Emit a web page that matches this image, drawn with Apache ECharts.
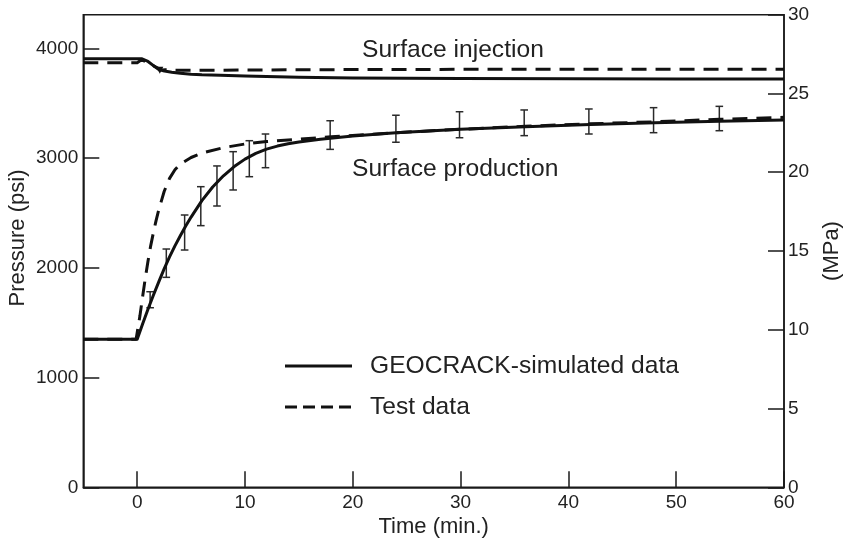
<!DOCTYPE html>
<html><head><meta charset="utf-8">
<script src="https://cdn.jsdelivr.net/npm/echarts@6/dist/echarts.min.js"></script>
<style>html,body{margin:0;padding:0;background:#fff}#c{width:845px;height:543px}</style>
</head><body><div id="c"></div>
<script>
// ---- tick values ----
const timeTicks = [0, 10, 20, 30, 40, 50, 60];
const psiTicks = [0, 1000, 2000, 3000, 4000];
const timeMin = -5, timeMax = 60;
const psiMax = 4306;          // top of frame (= 30 MPa on the right)
const mpaMin = 0, mpaMax = 30, mpaStep = 5;

// ---- Surface injection ----
const simInjT = [-5, 0.4, 1.0, 1.6, 2.4, 3.2, 4.0, 5.0, 6.0, 7.7, 10, 12, 15, 20, 25, 30, 40, 50, 60];
const simInjP = [3905, 3905, 3880, 3835, 3795, 3782, 3772, 3763, 3758, 3754, 3748, 3742, 3736, 3730, 3727, 3724, 3722, 3720, 3720];
const testInjT = [-5, 0, 0.4, 1.0, 1.6, 2.1, 2.6, 3.2, 4, 6, 10, 20, 30, 40, 50, 60];
const testInjP = [3869, 3869, 3895, 3870, 3835, 3800, 3805, 3800, 3800, 3800, 3802, 3806, 3808, 3808, 3810, 3810];
const testInjMarkIdx = 5;

// ---- Surface production ----
const simProdT = [-5, 0, 0.5, 1, 1.5, 2, 2.5, 3, 3.5, 4, 4.5, 5, 6, 7, 8, 9, 10, 11, 12, 13, 14, 15, 17, 20, 24, 30, 36, 42, 48, 54, 60];
const simProdP = [1348, 1348, 1488, 1622, 1750, 1872, 1990, 2100, 2200, 2292, 2380, 2462, 2612, 2736, 2838, 2922, 2990, 3042, 3081, 3109, 3130, 3146, 3171, 3200, 3231, 3262, 3286, 3305, 3321, 3335, 3347];
const testProdT = [-5, -0.1, 0.25, 0.5, 0.75, 1, 1.25, 1.5, 1.75, 2, 2.5, 3, 3.5, 4, 5, 6, 8, 10, 12, 15, 18, 21, 24, 30, 36, 42, 48, 54, 60];
const testProdP = [1350, 1350, 1560, 1735, 1905, 2060, 2200, 2320, 2430, 2528, 2695, 2815, 2893, 2945, 3005, 3045, 3095, 3128, 3150, 3172, 3193, 3212, 3231, 3262, 3290, 3312, 3330, 3353, 3371];

// ---- error bars on production ----
const errT  = [1.2, 2.7, 4.4, 5.9, 7.4, 8.9, 10.4, 11.9, 17.9, 24.0, 29.9, 35.9, 41.9, 47.9, 54.0];
const errLo = [1636, 1913, 2162, 2384, 2563, 2709, 2830, 2912, 3079, 3144, 3185, 3204, 3219, 3231, 3249];
const errHi = [1782, 2171, 2481, 2739, 2928, 3058, 3158, 3219, 3340, 3390, 3422, 3438, 3447, 3459, 3471];

const simName = 'GEOCRACK-simulated data';
const testName = 'Test data';

const zip = (t, p) => t.map((x, i) => [x, p[i]]);
const FONT = '"Liberation Sans", Arial, Helvetica, sans-serif';
const INK = '#1a1a1a';
const TXT = '#222';
const DASH = [15, 9];

const chart = echarts.init(document.getElementById('c'), null, {renderer: 'canvas'});

const axisLineStyle = {show: true, onZero: false, lineStyle: {color: INK, width: 1.5}};
const labelStyle = {fontSize: 19, color: TXT, fontFamily: FONT, formatter: v => String(v)};

const lineSeries = (name, data, dashed) => ({
  type: 'line', name, data, yAxisIndex: 0,
  symbol: 'none', showSymbol: true,
  smooth: false,
  lineStyle: {color: '#111', width: 3, type: dashed ? DASH : 'solid', join: 'round'},
  itemStyle: {color: '#111'},
  z: 3
});

const injTestData = zip(testInjT, testInjP).map((v, i) => i === testInjMarkIdx
  ? {value: v, symbol: 'triangle', symbolSize: 7, symbolRotate: 180}
  : v);

const option = {
  animation: false,
  backgroundColor: '#fff',
  grid: {left: 83.3, right: 61, top: 14.7, bottom: 55.7, show: true, containLabel: false,
         outerBoundsMode: 'none',
         borderColor: INK, borderWidth: 1.5, backgroundColor: 'transparent'},
  xAxis: {
    type: 'value', min: timeMin, max: timeMax,
    axisLine: axisLineStyle,
    axisTick: {show: true, inside: true, length: 16, customValues: timeTicks, lineStyle: {color: INK, width: 1.5}},
    axisLabel: Object.assign({customValues: timeTicks, margin: 6}, labelStyle),
    splitLine: {show: false},
    name: 'Time (min.)', nameLocation: 'middle', nameGap: 29, nameMoveOverlap: false,
    nameTextStyle: {fontSize: 22, color: TXT, fontFamily: FONT}
  },
  yAxis: [
    {
      type: 'value', min: 0, max: psiMax, position: 'left',
      axisLine: axisLineStyle,
      axisTick: {show: true, inside: true, length: 16, customValues: psiTicks, lineStyle: {color: INK, width: 1.5}},
      axisLabel: Object.assign({customValues: psiTicks, margin: 5}, labelStyle),
      splitLine: {show: false}
    },
    {
      type: 'value', min: mpaMin, max: mpaMax, interval: mpaStep, position: 'right',
      axisLine: axisLineStyle,
      axisTick: {show: true, inside: true, length: 16, lineStyle: {color: INK, width: 1.5}},
      axisLabel: Object.assign({margin: 4}, labelStyle),
      splitLine: {show: false},
      name: '(MPa)', nameLocation: 'middle', nameGap: 37, nameRotate: 90,
      nameTextStyle: {fontSize: 22, color: TXT, fontFamily: FONT}
    }
  ],
  series: [
    lineSeries(simName, zip(simInjT, simInjP), false),
    lineSeries(testName, injTestData, true),
    lineSeries(simName, zip(simProdT, simProdP), false),
    lineSeries(testName, zip(testProdT, testProdP), true),
    {
      type: 'custom', name: 'error', yAxisIndex: 0, z: 2,
      data: errT.map((t, i) => [t, errLo[i], errHi[i]]),
      encode: {x: 0, y: [1, 2]},
      renderItem: (params, api) => {
        const t = api.value(0);
        const lo = api.coord([t, api.value(1)]);
        const hi = api.coord([t, api.value(2)]);
        const w = 3.8;
        const st = {stroke: '#2a2a2a', lineWidth: 1.5};
        return {type: 'group', children: [
          {type: 'line', shape: {x1: lo[0], y1: lo[1], x2: hi[0], y2: hi[1]}, style: st},
          {type: 'line', shape: {x1: lo[0] - w, y1: lo[1], x2: lo[0] + w, y2: lo[1]}, style: st},
          {type: 'line', shape: {x1: hi[0] - w, y1: hi[1], x2: hi[0] + w, y2: hi[1]}, style: st}
        ]};
      }
    }
  ],
  graphic: [
    {type: 'text', x: 18, y: 238, rotation: Math.PI / 2,
     style: {text: 'Pressure (psi)', font: '22px ' + FONT, fill: TXT, align: 'center', verticalAlign: 'middle'}},
    {type: 'text', x: 362, y: 50,
     style: {text: 'Surface injection', font: '24.6px ' + FONT, fill: TXT, align: 'left', verticalAlign: 'middle'}},
    {type: 'text', x: 352, y: 169,
     style: {text: 'Surface production', font: '24.6px ' + FONT, fill: TXT, align: 'left', verticalAlign: 'middle'}},
    {type: 'line', shape: {x1: 285, y1: 366, x2: 352, y2: 366}, style: {stroke: '#111', lineWidth: 3}},
    {type: 'line', shape: {x1: 285, y1: 407, x2: 352, y2: 407}, style: {stroke: '#111', lineWidth: 3, lineDash: [12, 6]}},
    {type: 'text', x: 370, y: 366,
     style: {text: simName, font: '24.6px ' + FONT, fill: TXT, align: 'left', verticalAlign: 'middle'}},
    {type: 'text', x: 370, y: 407,
     style: {text: testName, font: '24.6px ' + FONT, fill: TXT, align: 'left', verticalAlign: 'middle'}}
  ]
};
chart.setOption(option);
</script>
</body></html>
